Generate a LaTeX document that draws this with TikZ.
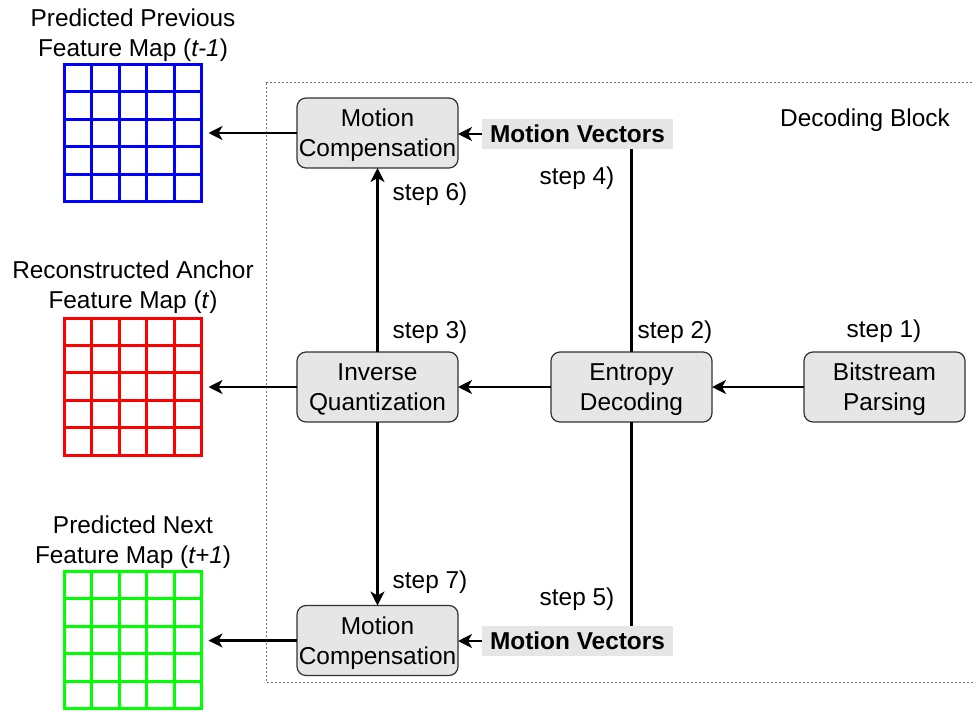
\documentclass[tikz,border=0pt]{standalone}
\usepackage{fontspec}
\setmainfont{Liberation Sans}
\usetikzlibrary{arrows.meta,calc}
\definecolor{mapblue}{RGB}{0,0,255}
\definecolor{mapred}{RGB}{255,0,0}
\definecolor{mapgreen}{RGB}{0,255,0}
\definecolor{boxfill}{RGB}{230,230,230}
\definecolor{boxline}{RGB}{50,50,50}
\begin{document}
\begin{tikzpicture}[x=0.5pt,y=-0.5pt,
  every node/.style={font=\fontsize{12.2}{15}\selectfont, inner sep=0pt, outer sep=0pt},
  procbox/.style={draw=boxline, line width=0.6pt, fill=boxfill, rounded corners=4.5pt,
    minimum width=80.5pt, minimum height=35pt, align=center, text depth=0pt},
  mvlabel/.style={fill=boxfill, minimum width=95.5pt, minimum height=15pt,
    font=\fontsize{12.2}{15}\selectfont\bfseries},
  conn/.style={line width=1.4pt, draw=black},
  arr/.style={conn, -{Stealth[length=7pt,width=7pt,inset=2pt]}},
  fmap/.style={draw=#1, line width=1.5pt, minimum size=68.5pt},
  maptitle/.style={align=center},
]
\useasboundingbox (0,0) rectangle (973,711);

% decoding block frame
\draw[black!55, line width=0.5pt, dash pattern=on 1pt off 1pt] (266,83) rectangle (990,682);
\node (blk) at (865,120) {Decoding Block};

% feature maps
\node[fmap=mapblue] (gprev) at (133,133) {};
\node[fmap=mapred] (ganc) at (133,386.5) {};
\node[fmap=mapgreen] (gnext) at (133,640) {};
\foreach \g/\c in {gprev/mapblue, ganc/mapred, gnext/mapgreen}{
  \foreach \i in {1,...,4}{
    \draw[\c, line width=1.5pt]
      ($(\g.north west)!\i/5!(\g.north east)$) -- ($(\g.south west)!\i/5!(\g.south east)$);
    \draw[\c, line width=1.5pt]
      ($(\g.north west)!\i/5!(\g.south west)$) -- ($(\g.north east)!\i/5!(\g.south east)$);
  }
}
\node[maptitle] (tprev) at (133,35) {Predicted Previous\\Feature Map (\textit{t-1})};
\node[maptitle] (tanc) at (133,287) {Reconstructed Anchor\\Feature Map (\textit{t})};
\node[maptitle] (tnext) at (133,542) {Predicted Next\\Feature Map (\textit{t+1})};

% processing blocks
\node[procbox] (mctop) at (377.5,133) {Motion\\Compensation};
\node[procbox] (iq) at (377.5,387) {Inverse\\Quantization};
\node[procbox] (mcbot) at (377.5,640.5) {Motion\\Compensation};
\node[procbox] (ed) at (631.5,387) {Entropy\\Decoding};
\node[procbox] (bp) at (884.5,387) {Bitstream\\Parsing};
\node[mvlabel] (mvtop) at (577.5,134) {Motion Vectors};
\node[mvlabel] (mvbot) at (577.5,641) {Motion Vectors};

% step labels
\node (s1) at (884,331) {step 1)};
\node (s2) at (675,332) {step 2)};
\node (s3) at (430,332) {step 3)};
\node (s4) at (577,178) {step 4)};
\node (s5) at (577,599) {step 5)};
\node (s6) at (430,194) {step 6)};
\node (s7) at (430,582) {step 7)};

% connectors
\draw[arr] (bp) -- (ed);
\draw[arr] (ed) -- (iq);
\draw[arr] (iq) -- (mctop);
\draw[arr] (iq) -- (mcbot);
\draw[conn] (ed.north) -- (ed.north |- mvtop.south);
\draw[conn] (ed.south) -- (ed.south |- mvbot.north);
\draw[arr] (mvtop.west) -- (mvtop.west -| mctop.east);
\draw[arr] (mvbot.west) -- (mvbot.west -| mcbot.east);
\draw[arr, shorten >=3.5pt] (mctop.west) -- (mctop.west -| gprev.east);
\draw[arr, shorten >=3.5pt] (iq.west) -- (iq.west -| ganc.east);
\draw[arr, shorten >=3.5pt] (mcbot.west) -- (mcbot.west -| gnext.east);
\end{tikzpicture}
\end{document}
